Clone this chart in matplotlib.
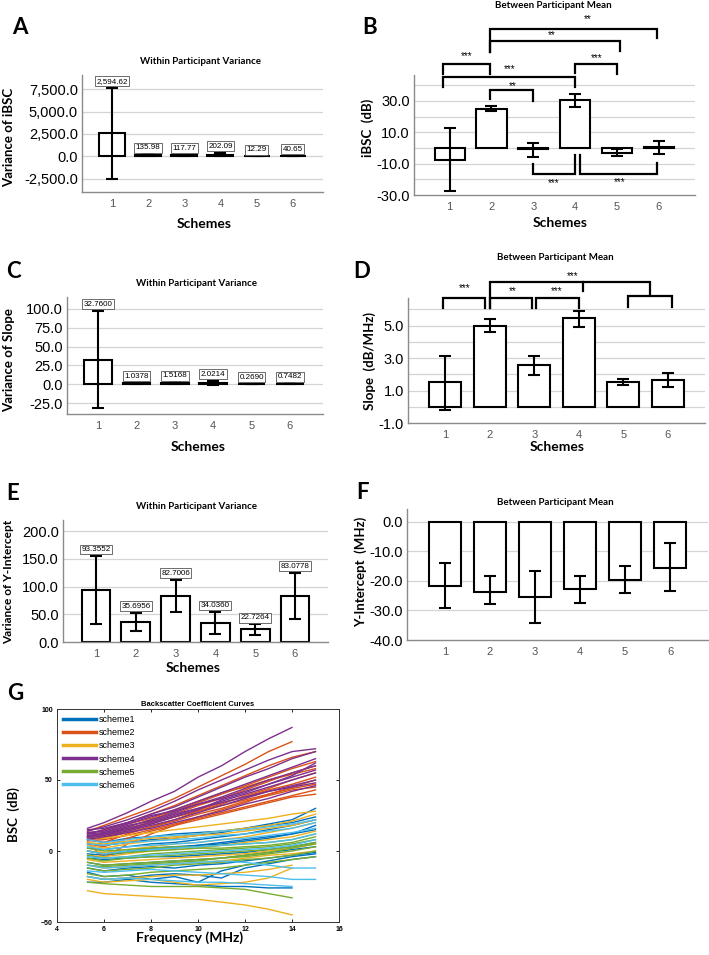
import numpy as np
import matplotlib
matplotlib.use("Agg")
import matplotlib.pyplot as plt
from matplotlib.ticker import FuncFormatter, FixedLocator

# ---------------- data ----------------
schemes = [1, 2, 3, 4, 5, 6]

a_vals = [2594.62, 135.98, 117.77, 202.09, 12.29, 40.65]
a_lo = [-2460, 40, 30, 0, 5, 10]
a_hi = [7650, 230, 205, 400, 20, 70]
a_labels = ["2,594.62", "135.98", "117.77", "202.09", "12.29", "40.65"]

b_vals = [-7.8, 25.0, -0.5, 30.3, -3.0, 0.7]
b_lo = [-27.5, 23.3, -5.6, 26.0, -5.1, -3.8]
b_hi = [12.8, 26.8, 3.4, 34.3, -0.6, 4.6]

c_vals = [32.76, 1.0378, 1.5168, 2.0214, 0.2690, 0.7482]
c_lo = [-32, 0.3, 0.5, -0.5, 0.1, 0.3]
c_hi = [97.5, 1.8, 2.5, 4.5, 0.45, 1.2]
c_labels = ["32.7600", "1.0378", "1.5168", "2.0214", "0.2690", "0.7482"]

d_vals = [1.5, 5.0, 2.55, 5.45, 1.55, 1.65]
d_lo = [-0.2, 4.6, 1.95, 4.9, 1.35, 1.2]
d_hi = [3.15, 5.4, 3.1, 5.9, 1.7, 2.05]

e_vals = [93.3552, 35.6956, 82.7006, 34.0360, 22.7264, 83.0778]
e_lo = [33, 19, 54, 14, 13, 42]
e_hi = [155, 53, 112, 54, 32, 125]
e_labels = ["93.3552", "35.6956", "82.7006", "34.0360", "22.7264", "83.0778"]

f_vals = [-21.6, -23.6, -25.4, -22.8, -19.7, -15.6]
f_lo = [-29.2, -27.9, -34.3, -27.5, -24.1, -23.4]
f_hi = [-13.9, -18.3, -16.6, -18.3, -14.9, -7.2]

# Panel G: backscatter coefficient curves (dB) at these frequencies (MHz)
freq = [5.3, 6, 7, 8, 9, 10, 11, 12, 13, 14, 15]
nan = np.nan
scheme1_curves = [
    [5, 4, 6, 8, 9, 11, 13, 16, 19, 22, 30],
    [2, 1, 3, 5, 6, 8, 10, 12, 15, 18, 22],
    [-2, -3, -1, 1, 2, 4, 5, 7, 9, 12, 15],
    [-8, -10, -9, -8, -7, -6, -5, -3, -1, 1, 3],
    [-15, -18, -17, -20, -18, -22, -14, -10, -7, -4, -2],
    [-22, -22, -20, -22, -23, -24, -25, -25, -26, -26, nan],
    [8, 6, 9, 10, 12, 13, 14, 16, 18, 20, 24],
    [-5, -6, -5, -4, -4, -3, -2, -1, 1, 3, 6],
    [0, -2, 0, 2, 3, 4, 6, 8, 10, 12, 18],
    [-12, -14, -12, -11, -12, -10, -9, -7, -5, -3, -1],
    [-18, -20, -19, -17, -16, -17, -19, -12, -9, -6, -4],
]
scheme2_curves = [
    [14, 18, 24, 30, 37, 45, 53, 61, 70, 77, nan],
    [12, 15, 20, 26, 32, 39, 46, 53, 60, 66, 70],
    [10, 12, 17, 22, 28, 34, 40, 46, 52, 58, 63],
    [8, 6, 12, 17, 22, 28, 33, 39, 44, 50, 55],
    [6, -5, 5, 12, 18, 24, 29, 34, 40, 45, 50],
    [9, 10, 14, 19, 24, 29, 34, 38, 43, 47, 52],
    [11, 12, 16, 20, 24, 28, 32, 36, 40, 44, 47],
    [7, 8, 11, 15, 19, 23, 27, 31, 35, 39, 43],
    [13, 14, 19, 23, 29, 35, 41, 45, 50, 54, 58],
    [5, 3, 9, 14, 18, 22, 26, 30, 34, 38, 40],
    [10, 11, 15, 21, 26, 32, 37, 43, 49, 55, 60],
    [8, 9, 13, 17, 21, 26, 30, 35, 39, 43, 45],
]
scheme3_curves = [
    [-28, -30, -31, -32, -33, -34, -36, -38, -41, -45, nan],
    [10, 9, 11, 13, 15, 17, 19, 21, 23, 26, 28],
    [4, 2, 5, 7, 9, 11, 12, 14, 16, 18, 22],
    [-3, -4, -2, 0, 1, 2, 4, 6, 8, 10, 14],
    [-10, -12, -11, -10, -9, -8, -7, -5, -3, -2, 0],
    [-18, -20, -19, -18, -17, -17, -16, -15, -13, -10, nan],
    [-20, -22, -21, -20, -22, -24, -23, -22, -19, -12, nan],
    [6, 5, 7, 9, 10, 12, 14, 16, 18, 21, 26],
    [-6, -8, -7, -6, -5, -4, -3, -2, 0, 2, 5],
    [0, -1, 1, 3, 5, 6, 8, 10, 13, 16, 20],
]
scheme4_curves = [
    [16, 20, 27, 35, 42, 52, 60, 70, 79, 87, nan],
    [14, 17, 22, 28, 35, 43, 50, 57, 64, 70, 72],
    [12, 15, 20, 26, 31, 38, 45, 52, 58, 65, 70],
    [13, 14, 19, 24, 29, 35, 41, 47, 53, 59, 65],
    [10, 13, 17, 22, 27, 33, 38, 44, 50, 55, 60],
    [11, 12, 16, 20, 25, 30, 35, 40, 45, 50, 55],
    [9, 11, 14, 18, 22, 27, 32, 37, 42, 46, 50],
    [15, 16, 20, 25, 28, 33, 37, 42, 47, 52, 57],
    [8, 10, 13, 16, 20, 24, 28, 33, 37, 42, 46],
    [12, 13, 18, 21, 26, 30, 34, 38, 42, 45, 48],
    [10, 12, 15, 19, 24, 29, 36, 41, 47, 53, 62],
]
scheme5_curves = [
    [-22, -23, -24, -25, -25, -25, -26, -27, -30, -33, nan],
    [-8, -10, -9, -8, -7, -6, -5, -3, -1, 2, 5],
    [-3, -5, -4, -2, -1, 0, 1, 2, 3, 5, 8],
    [2, 0, 1, 2, 3, 3, 4, 5, 6, 8, 12],
    [-12, -14, -13, -12, -10, -9, -8, -6, -5, -3, 0],
    [-5, -7, -5, -4, -3, -2, -1, 0, 1, 3, 6],
    [-16, -18, -17, -15, -14, -13, -12, -10, -8, -6, -4],
    [0, -2, -1, 0, 1, 2, 2, 3, 4, 6, 10],
    [-10, -11, -10, -9, -8, -7, -5, -4, -2, 0, 3],
]
scheme6_curves = [
    [8, 6, 8, 10, 11, 12, 14, 15, 17, 19, 22],
    [3, 1, 3, 4, 5, 6, 8, 9, 11, 13, 16],
    [-4, -5, -4, -3, -2, -1, 0, 1, 2, 4, 8],
    [-18, -20, -19, -20, -21, -22, -22, -23, -24, -25, nan],
    [-10, -12, -11, -10, -9, -8, -7, -8, -10, -12, -12],
    [5, 4, 6, 7, 8, 9, 11, 12, 14, 16, 20],
    [0, -2, 0, 1, 2, 3, 4, 5, 6, 8, 12],
    [-14, -15, -14, -13, -14, -15, -16, -17, -18, -20, -20],
]
scheme_names = ["scheme1", "scheme2", "scheme3", "scheme4", "scheme5", "scheme6"]
scheme_colors = ["#0072BD", "#D95319", "#EDB120", "#7E2F8E", "#77AC30", "#4DBEEE"]

# ---------------- figure ----------------
W, H = 709, 955
fig = plt.figure(figsize=(W / 100, H / 100), dpi=100)

LBL = ["Lato", "DejaVu Sans"]
TCK = ["Liberation Sans", "DejaVu Sans"]


def rect(l, r, t, b):
    return [l / W, 1 - b / H, (r - l) / W, (b - t) / H]


def T(x, y, s, **kw):
    kw.setdefault("ha", "center")
    kw.setdefault("va", "center")
    kw.setdefault("family", LBL)
    fig.text(x / W, 1 - y / H, s, **kw)


def bar_panel(box, vals, lo, hi, ylim, majors, minors, fmt, xlim=(0.17, 6.84)):
    ax = fig.add_axes(rect(*box))
    vals = np.array(vals); lo = np.array(lo); hi = np.array(hi)
    ax.set_axisbelow(True)
    for g in minors:
        ax.axhline(g, color="#d4d4d4", lw=0.9, zorder=0)
    ax.bar(schemes, vals, width=0.72, facecolor="white", edgecolor="black",
           linewidth=1.5, zorder=2)
    ax.errorbar(schemes, vals, yerr=[vals - lo, hi - vals], fmt="none",
                ecolor="black", elinewidth=1.5, capsize=4.5, capthick=1.5, zorder=3)
    ax.set_xlim(*xlim)
    ax.set_ylim(*ylim)
    ax.yaxis.set_major_locator(FixedLocator(majors))
    ax.yaxis.set_major_formatter(FuncFormatter(fmt))
    ax.set_xticks(schemes)
    ax.set_xticklabels([str(s) for s in schemes])
    for sp in ["top", "right"]:
        ax.spines[sp].set_visible(False)
    for sp in ["left", "bottom"]:
        ax.spines[sp].set_color("#8a8a8a")
        ax.spines[sp].set_linewidth(1.0)
    ax.tick_params(axis="y", length=0, pad=3, labelsize=10.5)
    ax.tick_params(axis="x", length=0, pad=5, labelsize=8, labelcolor="#555555")
    for t in ax.get_yticklabels() + ax.get_xticklabels():
        t.set_family(TCK)
    return ax


def value_labels(ax, hi, labels):
    for x, h, s in zip(schemes, hi, labels):
        ax.annotate(s, xy=(x, h), xytext=(0, 2.2), textcoords="offset points",
                    ha="center", va="bottom", fontsize=5.8, family=TCK,
                    bbox=dict(boxstyle="square,pad=0.18", fc="white", ec="#555555", lw=0.6),
                    zorder=5, annotation_clip=False)


def bracket(ax, x1, x2, y, l1, l2, text, tx, ty):
    ax.plot([x1, x1, x2, x2], [l1, y, y, l2], color="black", lw=1.6,
            clip_on=False, zorder=4, solid_joinstyle="miter")
    ax.text(tx, ty, text, ha="center", va="center", fontsize=7, family=TCK,
            clip_on=False)


f1 = lambda v, p: f"{v:,.1f}"

# ---- A ----
axA = bar_panel((82, 323, 75, 192), a_vals, a_lo, a_hi, (-3950, 9060),
                [-2500, 0, 2500, 5000, 7500], [-2500, 0, 2500, 5000, 7500], f1)
value_labels(axA, a_hi, a_labels)
T(20, 28, "A", fontsize=16, weight="bold")
T(200, 62, "Within Participant Variance", fontsize=7, weight="bold")
T(204, 224, "Schemes", fontsize=10, weight="bold")
T(9, 137, "Variance of iBSC", fontsize=9.5, weight="bold", rotation=90)

# ---- B ----
axB = bar_panel((414, 695, 75, 195), b_vals, b_lo, b_hi, (-30, 46.5),
                [-30, -10, 10, 30], [-20, -10, 0, 10, 20, 30, 40], f1, xlim=(0.15, 6.86))
bracket(axB, 0.85, 1.97, 53.5, 47, 47, "***", 1.4, 58.7)
bracket(axB, 0.85, 4.0, 45, 38.7, 38.7, "***", 2.43, 50.3)
bracket(axB, 1.97, 2.98, 36.8, 31, 29.7, "**", 2.5, 39.3)
bracket(axB, 1.97, 5.95, 76, 61, 70, "**", 4.29, 81.9)
bracket(axB, 1.97, 5.07, 68, 61, 62, "**", 3.43, 72.2)
bracket(axB, 4.0, 5.0, 53.5, 47.5, 47, "***", 4.5, 57.4)
bracket(axB, 3.0, 4.0, -16.8, -10.3, -4.5, "***", 3.48, -22.6)
bracket(axB, 4.12, 5.95, -16.8, -4.5, -9.7, "***", 5.07, -21.9)
T(370, 27, "B", fontsize=16, weight="bold")
T(553, 5, "Between Participant Mean", fontsize=7, weight="bold")
T(560, 223, "Schemes", fontsize=10, weight="bold")
T(368, 128, "iBSC  (dB)", fontsize=9.5, weight="bold", rotation=90)

# ---- C ----
axC = bar_panel((67, 323, 297, 414), c_vals, c_lo, c_hi, (-39.5, 115.8),
                [-25, 0, 25, 50, 75, 100], [-25, 0, 25, 50, 75, 100], f1, xlim=(0.19, 6.86))
value_labels(axC, c_hi, c_labels)
T(13, 272, "C", fontsize=16, weight="bold")
T(197, 283, "Within Participant Variance", fontsize=7, weight="bold")
T(198, 447, "Schemes", fontsize=10, weight="bold")
T(9, 360, "Variance of Slope", fontsize=9.5, weight="bold", rotation=90)

# ---- D ----
axD = bar_panel((408, 705, 298, 423), d_vals, d_lo, d_hi, (-1.0, 6.7),
                [-1, 1, 3, 5], [0, 1, 2, 3, 4, 5, 6], f1, xlim=(0.17, 6.83))
bracket(axD, 0.96, 1.9, 6.7, 6.09, 6.09, "***", 1.45, 7.3)
bracket(axD, 2.0, 2.95, 6.7, 6.09, 6.09, "**", 2.52, 7.12)
bracket(axD, 3.04, 4.0, 6.7, 6.09, 6.09, "***", 3.51, 7.12)
bracket(axD, 2.0, 5.6, 7.67, 6.09, 6.88, "***", 3.87, 8.03)
axD.plot([4.09, 4.09], [7.67, 7.12], color="black", lw=1.6, clip_on=False)
bracket(axD, 5.1, 6.1, 6.82, 6.15, 6.15, "", 5.6, 7.0)
T(362, 272, "D", fontsize=16, weight="bold")
T(555, 257, "Between Participant Mean", fontsize=7, weight="bold")
T(557, 447, "Schemes", fontsize=10, weight="bold")
T(370, 361, "Slope  (dB/MHz)", fontsize=9.5, weight="bold", rotation=90)

# ---- E ----
axE = bar_panel((63, 328, 520, 642), e_vals, e_lo, e_hi, (0, 220),
                [0, 50, 100, 150, 200], [50, 100, 150, 200], f1, xlim=(0.17, 6.83))
value_labels(axE, e_hi, e_labels)
T(13, 493, "E", fontsize=16, weight="bold")
T(197, 506, "Within Participant Variance", fontsize=7, weight="bold")
T(193, 668, "Schemes", fontsize=10, weight="bold")
T(9, 582, "Variance of Y-Intercept", fontsize=8.6, weight="bold", rotation=90)

# ---- F ----
axF = bar_panel((407, 708, 509, 640), f_vals, f_lo, f_hi, (-40, 4.4),
                [-40, -30, -20, -10, 0], [-30, -20, -10, 0], f1, xlim=(0.16, 6.84))
T(362, 492, "F", fontsize=16, weight="bold")
T(555, 502, "Between Participant Mean", fontsize=7, weight="bold")
T(361, 572, "Y-Intercept  (MHz)", fontsize=9.5, weight="bold", rotation=90)

# ---- G ----
axG = fig.add_axes(rect(57, 339, 709, 922))
all_curves = [scheme1_curves, scheme2_curves, scheme3_curves,
              scheme4_curves, scheme5_curves, scheme6_curves]
for name, col, curves in zip(scheme_names, scheme_colors, all_curves):
    for i, c in enumerate(curves):
        axG.plot(freq, c, color=col, lw=1.0, label=name if i == 0 else None)
axG.set_xlim(4, 16)
axG.set_ylim(-50, 100)
axG.set_xticks([4, 6, 8, 10, 12, 14, 16])
axG.set_yticks([-50, 0, 50, 100])
axG.tick_params(direction="in", length=2.5, width=0.6, labelsize=5, pad=3,
                top=True, right=True)
for t in axG.get_xticklabels() + axG.get_yticklabels():
    t.set_fontweight("bold")
    t.set_family(TCK)
for sp in axG.spines.values():
    sp.set_linewidth(0.7)
    sp.set_color("#333333")
leg = axG.legend(loc="upper left", frameon=False, handlelength=3.6,
                 labelspacing=0.45, borderaxespad=0.3, handletextpad=0.3,
                 prop={"family": TCK, "size": 6.5})
for ln in leg.get_lines():
    ln.set_linewidth(2.5)
T(198, 704, "Backscatter Coefficient Curves", fontsize=5.5, weight="bold", family=TCK)
T(15, 693, "G", fontsize=16, weight="bold")
T(190, 938, "Frequency (MHz)", fontsize=10, weight="bold")
T(14, 815, "BSC  (dB)", fontsize=9.5, weight="bold", rotation=90)

fig.savefig("out.png", dpi=100)
